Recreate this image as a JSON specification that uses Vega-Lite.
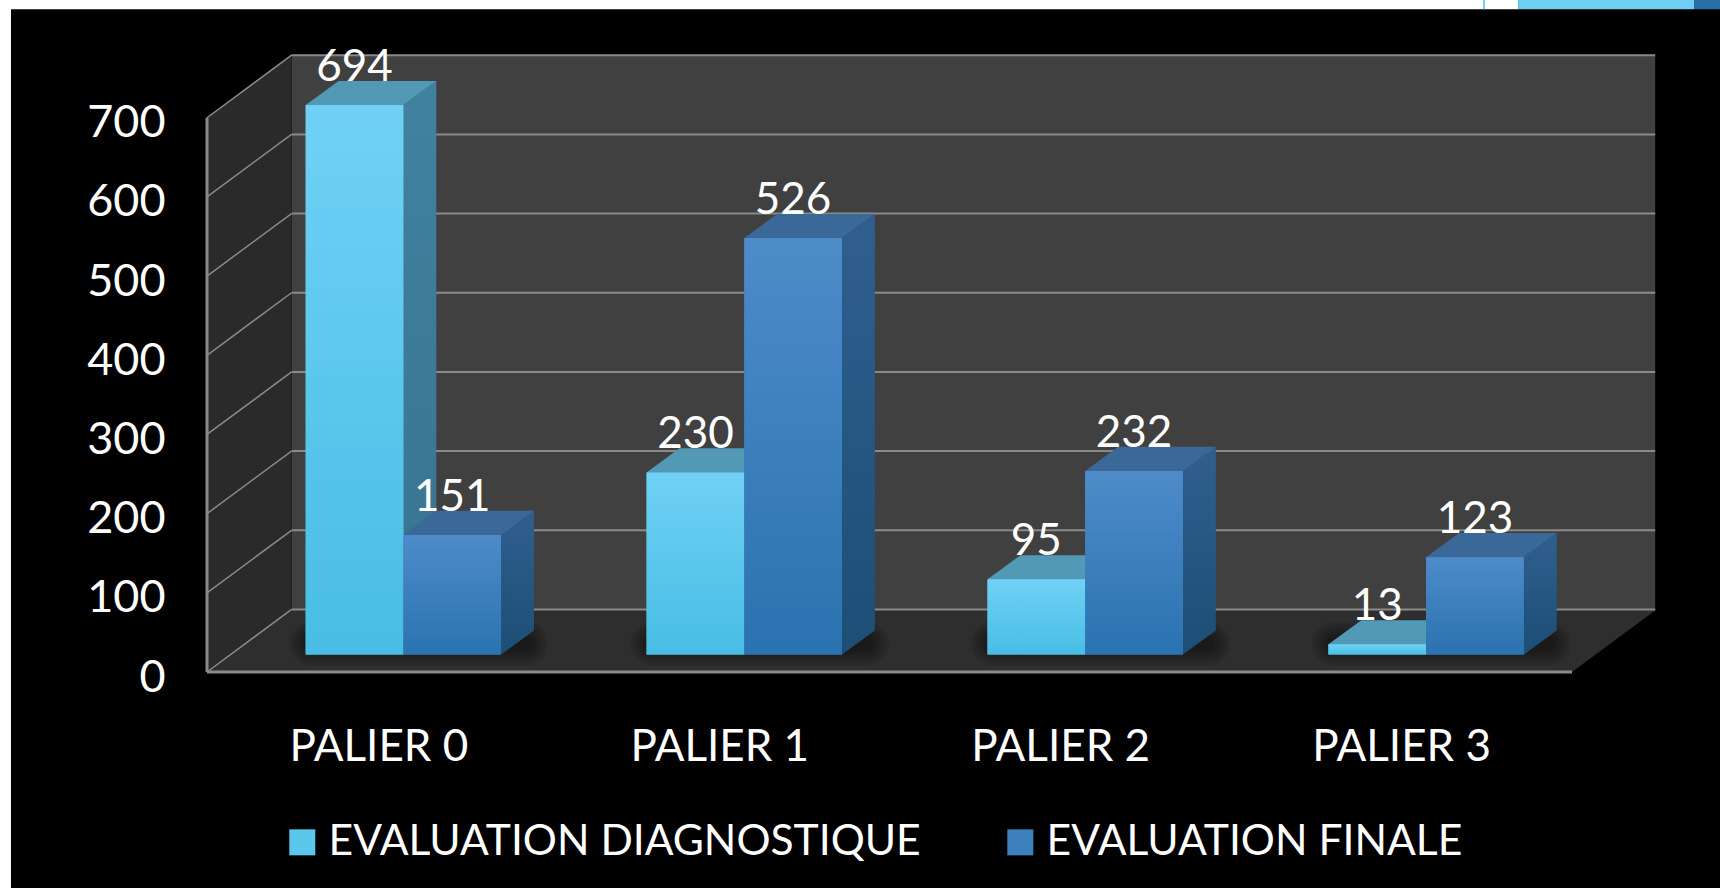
{
"$schema":"https://vega.github.io/schema/vega-lite/v6.json",
"width":1365,"height":616,
"autosize":"none",
"padding":{"left":207,"top":56,"right":148,"bottom":216},
"background":"#000000",
"config":{"view":{"stroke":null},"font":"Lato"},
"datasets":{
"profondeur":[{"d":0},{"d":1}],
"unique":[{}],
"grille":[{"v":0},{"v":100},{"v":200},{"v":300},{"v":400},{"v":500},{"v":600},{"v":700}]
},
"data":{"values":[
{"palier":"PALIER 0","serie":"EVALUATION DIAGNOSTIQUE","valeur":694},
{"palier":"PALIER 0","serie":"EVALUATION FINALE","valeur":151},
{"palier":"PALIER 1","serie":"EVALUATION DIAGNOSTIQUE","valeur":230},
{"palier":"PALIER 1","serie":"EVALUATION FINALE","valeur":526},
{"palier":"PALIER 2","serie":"EVALUATION DIAGNOSTIQUE","valeur":95},
{"palier":"PALIER 2","serie":"EVALUATION FINALE","valeur":232},
{"palier":"PALIER 3","serie":"EVALUATION DIAGNOSTIQUE","valeur":13},
{"palier":"PALIER 3","serie":"EVALUATION FINALE","valeur":123}
]},
"transform":[
{"calculate":"indexof(['PALIER 0','PALIER 1','PALIER 2','PALIER 3'],datum.palier)","as":"i"},
{"calculate":"datum.serie==='EVALUATION FINALE'?1:0","as":"s"},
{"calculate":"datum.i-0.2865+datum.s*0.2865","as":"x0"},
{"calculate":"datum.x0+0.2865","as":"x1"},
{"calculate":"datum.valeur+22","as":"t"},
{"calculate":"[0,1]","as":"d"},
{"flatten":["d"]},
{"calculate":"datum.x1+datum.d*0.0966","as":"sx"},
{"calculate":"22+datum.d*30.5","as":"sb"},
{"calculate":"datum.t+datum.d*30.5","as":"st"},
{"calculate":"datum.x0+datum.d*0.0966","as":"tx0"},
{"calculate":"datum.x1+datum.d*0.0966","as":"tx1"}
],
"layer":[
{"data":{"name":"unique"},"mark":{"type":"rect","color":"#404040"},
 "encoding":{
 "x":{"datum":-0.328,"type":"quantitative","title":null,"scale":{"domain":[-0.576,3.428],"nice":false,"zero":false},
  "axis":{"values":[0,1,2,3],"labelExpr":"'PALIER '+datum.value","title":null,"grid":false,"ticks":false,"domain":false,"labelFont":"Lato","labelFontSize":44,"labelColor":"#ffffff","labelPadding":53,"labelOffset":-25,"labelOverlap":false,"labelBound":false,"labelFlush":false}},
 "x2":{"datum":3.672},
 "y":{"datum":79,"type":"quantitative","title":null,"scale":{"domain":[0,778],"nice":false,"zero":false},
  "axis":{"values":[0,100,200,300,400,500,600,700],"title":null,"grid":false,"ticks":false,"domain":false,"labelFont":"Lato","labelFontSize":45,"labelColor":"#ffffff","labelPadding":42,"labelOffset":5,"labelOverlap":false,"labelBound":false,"labelFlush":false}},
 "y2":{"datum":779}}},
{"data":{"name":"profondeur"},"transform":[{"calculate":"-0.576+datum.d*0.248","as":"px"},{"calculate":"datum.d*79","as":"py"},{"calculate":"700+datum.d*79","as":"py2"}],
 "mark":{"type":"area","color":"#2a2a2a"},
 "encoding":{"x":{"field":"px","type":"quantitative"},"y":{"field":"py","type":"quantitative"},"y2":{"field":"py2"}}},
{"data":{"name":"profondeur"},"transform":[{"calculate":"-0.576+datum.d*0.248","as":"px"},{"calculate":"3.428+datum.d*0.248","as":"px2"},{"calculate":"datum.d*79","as":"py"}],
 "mark":{"type":"area","color":"#2e2e2e","orient":"horizontal"},
 "encoding":{"y":{"field":"py","type":"quantitative"},"x":{"field":"px","type":"quantitative"},"x2":{"field":"px2"}}},
{"data":{"name":"grille"},"transform":[{"calculate":"datum.v+79","as":"vb"}],
 "mark":{"type":"rule","color":"#8a8a8a","strokeWidth":2},
 "encoding":{"x":{"datum":-0.328,"type":"quantitative"},"x2":{"datum":3.672},"y":{"field":"vb","type":"quantitative"}}},
{"data":{"name":"grille"},"transform":[{"calculate":"datum.v+79","as":"vb"}],
 "mark":{"type":"rule","color":"#8a8a8a","strokeWidth":1.5},
 "encoding":{"x":{"datum":-0.576,"type":"quantitative"},"x2":{"datum":-0.328},"y":{"field":"v","type":"quantitative"},"y2":{"field":"vb"}}},
{"data":{"name":"unique"},"mark":{"type":"rule","color":"#8a8a8a","strokeWidth":3},
 "encoding":{"x":{"datum":-0.576,"type":"quantitative"},"x2":{"datum":3.428},"y":{"datum":0,"type":"quantitative"}}},
{"data":{"name":"unique"},"mark":{"type":"rule","color":"#8a8a8a","strokeWidth":3},
 "encoding":{"x":{"datum":-0.576,"type":"quantitative"},"y":{"datum":0,"type":"quantitative"},"y2":{"datum":700}}},
{"transform":[{"filter":"datum.s===0 && datum.d===0"},{"calculate":"datum.i-0.27","as":"ox"},{"calculate":"datum.i+0.36","as":"ox2"},{"calculate":"[44,38,32,26,20,14]","as":"w"},{"flatten":["w"]}],
 "mark":{"type":"rule","color":"#000000","opacity":0.08,"strokeCap":"round"},
 "encoding":{"x":{"field":"ox","type":"quantitative"},"x2":{"field":"ox2"},"y":{"datum":36,"type":"quantitative"},"strokeWidth":{"field":"w","type":"quantitative","scale":null,"legend":null}}},
{"transform":[{"filter":"datum.s===0"}],"mark":{"type":"area","color":{"gradient":"linear","x1":0,"y1":0,"x2":0,"y2":1,"stops":[{"offset":0,"color":"#3f82a0"},{"offset":1,"color":"#39738f"}]}},
 "encoding":{"x":{"field":"sx","type":"quantitative"},"y":{"field":"st","type":"quantitative"},"y2":{"field":"sb"},"detail":{"field":"palier"}}},
{"transform":[{"filter":"datum.s===0"}],"mark":{"type":"area","color":"#5299b5","orient":"horizontal"},
 "encoding":{"y":{"field":"st","type":"quantitative"},"x":{"field":"tx0","type":"quantitative"},"x2":{"field":"tx1"},"detail":{"field":"palier"}}},
{"transform":[{"filter":"datum.s===1"}],"mark":{"type":"area","color":{"gradient":"linear","x1":0,"y1":0,"x2":0,"y2":1,"stops":[{"offset":0,"color":"#305f8e"},{"offset":1,"color":"#1c4e76"}]}},
 "encoding":{"x":{"field":"sx","type":"quantitative"},"y":{"field":"st","type":"quantitative"},"y2":{"field":"sb"},"detail":{"field":"palier"}}},
{"transform":[{"filter":"datum.s===1"}],"mark":{"type":"area","color":"#3a6899","orient":"horizontal"},
 "encoding":{"y":{"field":"st","type":"quantitative"},"x":{"field":"tx0","type":"quantitative"},"x2":{"field":"tx1"},"detail":{"field":"palier"}}},
{"transform":[{"filter":"datum.d===0"}],"mark":{"type":"rect"},
 "encoding":{"x":{"field":"x0","type":"quantitative"},"x2":{"field":"x1"},"y":{"field":"t","type":"quantitative"},"y2":{"datum":22},
 "color":{"field":"serie","type":"nominal","scale":{"domain":["EVALUATION DIAGNOSTIQUE","EVALUATION FINALE"],"range":["#5cc7ec","#3c80bd"]},
 "legend":{"title":null,"orient":"none","legendX":74,"legendY":765,"direction":"horizontal","columns":2,"columnPadding":78,"symbolType":"square","symbolSize":676,"symbolStrokeWidth":0,"labelFont":"Lato","labelFontSize":42.6,"labelColor":"#ffffff","labelOffset":5,"labelLimit":800}}}},
{"transform":[{"filter":"datum.d===0 && datum.s===0"}],"mark":{"type":"rect","color":{"gradient":"linear","x1":0,"y1":0,"x2":0,"y2":1,"stops":[{"offset":0,"color":"#70d1f5"},{"offset":1,"color":"#48bde4"}]}},
 "encoding":{"x":{"field":"x0","type":"quantitative"},"x2":{"field":"x1"},"y":{"field":"t","type":"quantitative"},"y2":{"datum":22}}},
{"transform":[{"filter":"datum.d===0 && datum.s===1"}],"mark":{"type":"rect","color":{"gradient":"linear","x1":0,"y1":0,"x2":0,"y2":1,"stops":[{"offset":0,"color":"#4e8bc9"},{"offset":1,"color":"#2a73b0"}]}},
 "encoding":{"x":{"field":"x0","type":"quantitative"},"x2":{"field":"x1"},"y":{"field":"t","type":"quantitative"},"y2":{"datum":22}}},
{"transform":[{"filter":"datum.d===0"},{"calculate":"(datum.x0+datum.x1)/2","as":"xc"}],
 "mark":{"type":"text","font":"Lato","fontSize":44,"color":"#ffffff","baseline":"middle","align":"center","dy":-37},
 "encoding":{"x":{"field":"xc","type":"quantitative"},"y":{"field":"t","type":"quantitative"},"text":{"field":"valeur","type":"quantitative"}}},
{"data":{"name":"unique"},"mark":{"type":"rect","color":"#ffffff"},
 "encoding":{"x":{"datum":-1.19,"type":"quantitative"},"x2":{"datum":3.27},"y":{"datum":837,"type":"quantitative"},"y2":{"datum":850}}},
{"data":{"name":"unique"},"mark":{"type":"rect","color":"#ffffff"},
 "encoding":{"x":{"datum":-1.19,"type":"quantitative"},"x2":{"datum":-1.151},"y":{"datum":-274,"type":"quantitative"},"y2":{"datum":850}}},
{"data":{"name":"unique"},"mark":{"type":"rect","color":"#6fd0f4"},
 "encoding":{"x":{"datum":3.27,"type":"quantitative"},"x2":{"datum":3.786},"y":{"datum":837,"type":"quantitative"},"y2":{"datum":850}}},
{"data":{"name":"unique"},"mark":{"type":"rect","color":"#2a6ea8"},
 "encoding":{"x":{"datum":3.786,"type":"quantitative"},"x2":{"datum":3.87},"y":{"datum":837,"type":"quantitative"},"y2":{"datum":850}}},
{"data":{"name":"unique"},"mark":{"type":"rule","color":"#6fd0f4","strokeWidth":2},
 "encoding":{"x":{"datum":3.17,"type":"quantitative"},"y":{"datum":837,"type":"quantitative"},"y2":{"datum":850}}}
]
}
